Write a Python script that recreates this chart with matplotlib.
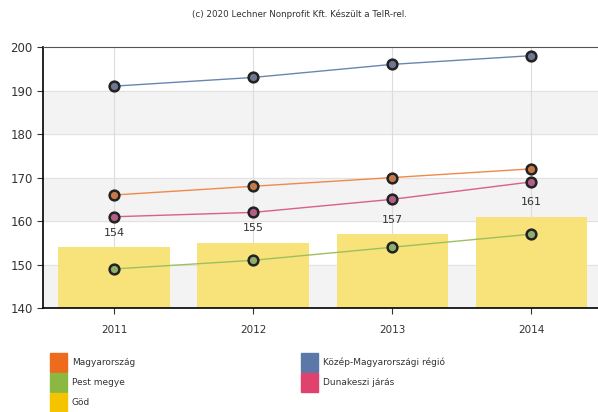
import matplotlib.pyplot as plt
from matplotlib.patches import Rectangle

# adatok
evek = ['2011', '2012', '2013', '2014']
god = [154, 155, 157, 161]
kozep_mo = [191, 193, 196, 198]
magyarorszag = [166, 168, 170, 172]
dunakeszi = [161, 162, 165, 169]
pest_megye = [149, 151, 154, 157]

fig = plt.figure(figsize=(5.98, 4.12), dpi=100)
ax = fig.add_axes([0.072, 0.252, 0.928, 0.634])

x = list(range(len(evek)))

# vízszintes sávok
for lo in (140, 160, 180):
    ax.axhspan(lo, lo + 10, color='#f3f3f3', zorder=0)
for y in range(150, 200, 10):
    ax.axhline(y, color='#e2e2e2', lw=0.8, zorder=0.5)
for xi in x:
    ax.axvline(xi, color='#dcdcdc', lw=0.8, zorder=0.5)

# Göd oszlopok
ax.bar(x, god, width=0.8, bottom=0, color='#f8e27a', zorder=1)
for xi, v in zip(x, god):
    ax.text(xi, v + 2.2, str(v), ha='center', va='bottom', fontsize=8, color='#333333')

# vonalak
vonalak = [
    (kozep_mo, '#6a86b0', '#6f7690'),
    (magyarorszag, '#f08a4a', '#c47a4a'),
    (dunakeszi, '#d8608a', '#b06088'),
    (pest_megye, '#9cc060', '#8fae6a'),
]
for adat, szin, tolt in vonalak:
    ax.plot(x, adat, color=szin, lw=1.0, zorder=2)
    ax.plot(x, adat, linestyle='none', marker='o', ms=7, mfc=tolt,
            mec='#222222', mew=1.8, zorder=3)

ax.set_xlim(-0.51, 3.48)
ax.set_ylim(140, 200)
ax.set_yticks(range(140, 201, 10))
ax.set_xticks(x)
ax.set_xticklabels(evek)
ax.tick_params(axis='y', labelsize=8.5, colors='#333333', length=4, width=0.8)
ax.tick_params(axis='x', labelsize=7.5, colors='#333333', length=4, width=0.8, pad=8)

ax.spines['right'].set_visible(False)
ax.spines['top'].set_color('#555555')
ax.spines['left'].set_linewidth(1.2)
ax.spines['bottom'].set_linewidth(1.2)

fig.text(0.5, 0.966, '(c) 2020 Lechner Nonprofit Kft. Készült a TeIR-rel.',
         ha='center', va='center', fontsize=6.3, color='#333333')

# jelmagyarázat
W, H = 598, 412
jelek = [
    ('Magyarország', '#ee6a1c', 50, 353),
    ('Pest megye', '#8ab843', 50, 373),
    ('Göd', '#f5c400', 50, 393),
    ('Közép-Magyarországi régió', '#5b78a8', 301, 353),
    ('Dunakeszi járás', '#e0426e', 301, 373),
]
for nev, szin, px, py in jelek:
    fig.patches.append(Rectangle((px / W, 1 - (py + 19) / H), 17 / W, 19 / H,
                                 transform=fig.transFigure, color=szin, figure=fig))
    fig.text((px + 22) / W, 1 - (py + 9.5) / H, nev, ha='left', va='center',
             fontsize=6.5, color='#333333')

fig.savefig('out.png', dpi=100)
